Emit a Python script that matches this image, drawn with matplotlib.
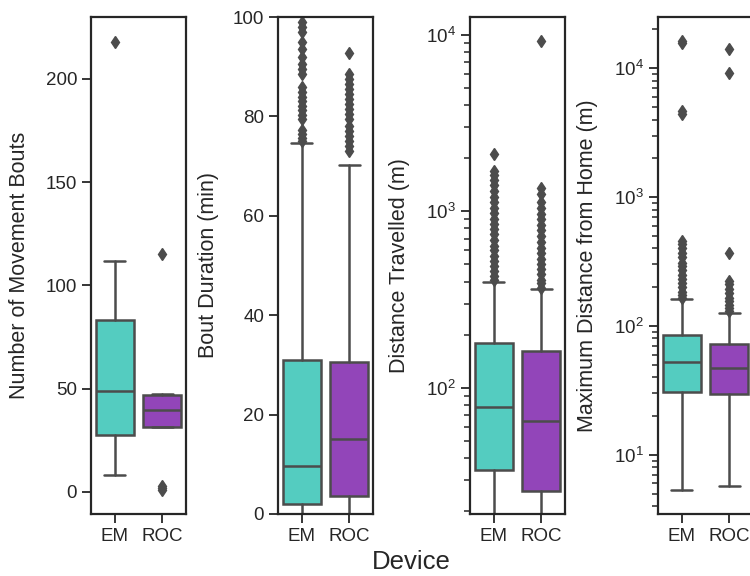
import numpy as np
import matplotlib
matplotlib.use("Agg")
import matplotlib.pyplot as plt
import seaborn as sns

sns.set_style("ticks")
plt.rcParams['font.family'] = ['Liberation Sans', 'DejaVu Sans']

devices = ["EM", "ROC"]
colors = ["#54ccc0", "#9245b9"]

# number of movement bouts
bouts_whislo = [8, 31.2]
bouts_q1 = [27.5, 31.2]
bouts_med = [49.1, 39.8]
bouts_q3 = [83.1, 46.7]
bouts_whishi = [112, 47.5]
bouts_fliers_em = [218]
bouts_fliers_roc = [115, 1, 2, 3]

# bout duration (min)
dur_whislo = [0, 0]
dur_q1 = [2.1, 3.7]
dur_med = [9.6, 15.0]
dur_q3 = [31.0, 30.6]
dur_whishi = [74.6, 70.2]
dur_fliers_em = [75, 75.7, 76.4, 77.2, 79.5, 80.3, 81.2, 82, 83, 84, 85, 86,
                 88.5, 89.5, 90.5, 92, 93.5, 95, 97, 98, 99]
dur_fliers_roc = [73, 74, 75, 76, 77, 78, 79.5, 80.5, 81.5, 82.5, 83.5, 84.5,
                  85.5, 86.5, 87.5, 88.5, 92.8]

# distance travelled (m)
dist_whislo = [1, 1]
dist_q1 = [34.2, 26.1]
dist_med = [77.7, 64.7]
dist_q3 = [180, 161]
dist_whishi = [400, 362]
dist_fliers_em = [410, 430, 460, 490, 520, 560, 600, 640, 690, 740, 790, 850, 910,
                  980, 1050, 1130, 1210, 1300, 1400, 1500, 1600, 1700, 2100]
dist_fliers_roc = [370, 390, 410, 440, 470, 500, 540, 580, 620, 670, 720, 780, 840,
                   900, 970, 1050, 1130, 1250, 1350, 9250]

# maximum distance from home (m)
home_whislo = [5.35, 5.74]
home_q1 = [30.9, 29.8]
home_med = [52.5, 47.4]
home_q3 = [85.2, 72]
home_whishi = [161, 127]
home_fliers_em = [165, 175, 185, 200, 215, 230, 250, 270, 290, 310, 340, 370, 400,
                  430, 460, 4400, 4700, 15800, 16300]
home_fliers_roc = [130, 137, 145, 155, 165, 180, 195, 210, 225, 370, 9250, 14000]

panels = [
    ("Number of Movement Bouts", bouts_whislo, bouts_q1, bouts_med, bouts_q3, bouts_whishi,
     [bouts_fliers_em, bouts_fliers_roc], "linear", (-10.7, 230)),
    ("Bout Duration (min)", dur_whislo, dur_q1, dur_med, dur_q3, dur_whishi,
     [dur_fliers_em, dur_fliers_roc], "linear", (0, 100)),
    ("Distance Travelled (m)", dist_whislo, dist_q1, dist_med, dist_q3, dist_whishi,
     [dist_fliers_em, dist_fliers_roc], "log", (19.3, 12600)),
    ("Maximum Distance from Home (m)", home_whislo, home_q1, home_med, home_q3, home_whishi,
     [home_fliers_em, home_fliers_roc], "log", (3.47, 25000)),
]

W, H = 750, 576
fig = plt.figure(figsize=(7.5, 5.76), dpi=100)
lefts = [91, 278, 470, 658]
label_x = [19.5, 208, 399, 588]
gray = "#4c4c4c"

for left, lx, (label, wlo, q1, med, q3, whi, fliers, scale, ylim) in zip(lefts, label_x, panels):
    ax = fig.add_axes([left / W, (H - 514) / H, 95 / W, (514 - 17) / H])
    stats = []
    for i in range(2):
        stats.append(dict(whislo=wlo[i], q1=q1[i], med=med[i], q3=q3[i],
                          whishi=whi[i], fliers=fliers[i]))
    bp = ax.bxp(stats, positions=[0, 1], widths=0.8, patch_artist=True,
                boxprops=dict(edgecolor=gray, linewidth=1.8),
                medianprops=dict(color=gray, linewidth=1.8),
                whiskerprops=dict(color=gray, linewidth=1.8),
                capprops=dict(color=gray, linewidth=1.8),
                flierprops=dict(marker="d", markerfacecolor=gray, markeredgecolor=gray,
                                markersize=6))
    for patch, c in zip(bp["boxes"], colors):
        patch.set_facecolor(c)
    for cap in bp["caps"]:
        x0, x1 = cap.get_xdata()
        mid = (x0 + x1) / 2
        cap.set_xdata([mid - 0.22, mid + 0.22])
    ax.set_yscale(scale)
    ax.set_ylim(*ylim)
    ax.set_xlim(-0.5, 1.5)
    ax.set_xticks([0, 1])
    ax.set_xticklabels(devices)
    ax.set_ylabel(label, fontsize=15.5, color=".15")
    ax.yaxis.label.set_va("center")
    ax.yaxis.set_label_coords((lx - left) / 95, 0.5)
    ax.tick_params(labelsize=13.5, colors=".15", width=1.3, length=6.5)
    ax.tick_params(which="minor", width=1.1, length=4.5)
    for s in ax.spines.values():
        s.set_linewidth(1.6)
        s.set_color(".15")

fig.text(411 / W, 1 - 562 / H, "Device", ha="center", va="center", fontsize=18.5, color=".15")

fig.savefig("out.png", dpi=100)
